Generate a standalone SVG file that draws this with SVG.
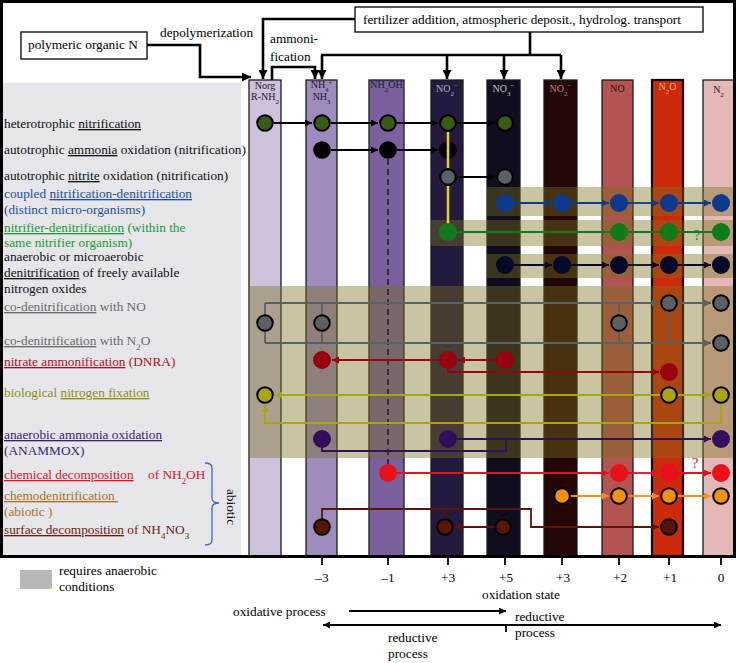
<svg xmlns="http://www.w3.org/2000/svg" width="736" height="663" viewBox="0 0 736 663">
<style>
text{font-family:"Liberation Serif","Times New Roman",serif;}
.t{font-size:13.3px;}
.cl{font-size:10px;text-anchor:middle;}
.col{stroke:#1b1b1b;stroke-width:1.3;}
.band{fill:#7c701d;fill-opacity:0.41;}
.box{fill:#fff;stroke:#000;stroke-width:1.3;}
.top{fill:none;stroke:#000;stroke-width:2.6;}
.ln{fill:none;stroke-width:1.8;}
.u{text-decoration:underline;}
</style>
<defs>
<marker id="big" viewBox="0 0 10 10" refX="10" refY="5" markerWidth="10" markerHeight="9" markerUnits="userSpaceOnUse" orient="auto"><path d="M0,0 L10,5 L0,10 z" fill="#000"/></marker>
<marker id="ak" viewBox="0 0 10 10" refX="10" refY="5" markerWidth="8" markerHeight="7" markerUnits="userSpaceOnUse" orient="auto-start-reverse"><path d="M0,0 L10,5 L0,10 z" fill="#000"/></marker>
<marker id="ab" viewBox="0 0 10 10" refX="10" refY="5" markerWidth="8" markerHeight="7" markerUnits="userSpaceOnUse" orient="auto"><path d="M0,0 L10,5 L0,10 z" fill="#0c3a8c"/></marker>
<marker id="an" viewBox="0 0 10 10" refX="10" refY="5" markerWidth="8" markerHeight="7" markerUnits="userSpaceOnUse" orient="auto"><path d="M0,0 L10,5 L0,10 z" fill="#060a28"/></marker>
<marker id="ag" viewBox="0 0 10 10" refX="10" refY="5" markerWidth="8" markerHeight="7" markerUnits="userSpaceOnUse" orient="auto"><path d="M0,0 L10,5 L0,10 z" fill="#5c6064"/></marker>
<marker id="adr" viewBox="0 0 10 10" refX="10" refY="5" markerWidth="8" markerHeight="7" markerUnits="userSpaceOnUse" orient="auto"><path d="M0,0 L10,5 L0,10 z" fill="#990010"/></marker>
<marker id="ao" viewBox="0 0 10 10" refX="10" refY="5" markerWidth="8" markerHeight="7" markerUnits="userSpaceOnUse" orient="auto"><path d="M0,0 L10,5 L0,10 z" fill="#a8a412"/></marker>
<marker id="ap" viewBox="0 0 10 10" refX="10" refY="5" markerWidth="8" markerHeight="7" markerUnits="userSpaceOnUse" orient="auto"><path d="M0,0 L10,5 L0,10 z" fill="#30105e"/></marker>
<marker id="ar" viewBox="0 0 10 10" refX="10" refY="5" markerWidth="8" markerHeight="7" markerUnits="userSpaceOnUse" orient="auto"><path d="M0,0 L10,5 L0,10 z" fill="#e8101a"/></marker>
<marker id="aor" viewBox="0 0 10 10" refX="10" refY="5" markerWidth="8" markerHeight="7" markerUnits="userSpaceOnUse" orient="auto"><path d="M0,0 L10,5 L0,10 z" fill="#f6900e"/></marker>
<marker id="abr" viewBox="0 0 10 10" refX="10" refY="5" markerWidth="8" markerHeight="7" markerUnits="userSpaceOnUse" orient="auto"><path d="M0,0 L10,5 L0,10 z" fill="#5a1408"/></marker>
</defs>
<rect width="736" height="663" fill="#fff"/>
<rect x="3" y="83" width="238" height="473" fill="#e6e6ea"/>

<!-- columns -->
<g id="col-norg"><rect class="col" x="249" y="80" width="32" height="476" fill="#cdc1dc"/>
<text class="cl" x="265" y="89" fill="#1a1a2a">Norg</text><text class="cl" x="265" y="100" fill="#1a1a2a">R-NH<tspan font-size="7" baseline-shift="sub">2</tspan></text></g>
<g id="col-nh4"><rect class="col" x="306" y="80" width="31" height="476" fill="#9d8bbd"/>
<text class="cl" x="321.5" y="88" fill="#1a1a2a">NH<tspan font-size="6.5" baseline-shift="sub">4</tspan><tspan font-size="6.5" baseline-shift="super">+</tspan></text><text class="cl" x="321.5" y="100" fill="#1a1a2a">NH<tspan font-size="6.5" baseline-shift="sub">3</tspan></text></g>
<g id="col-nh2oh"><rect class="col" x="369" y="80" width="35" height="476" fill="#7a619e"/>
<text class="cl" x="386.5" y="88" fill="#1a1a2a">NH<tspan font-size="7" baseline-shift="sub">2</tspan>OH</text></g>
<g id="col-no2a"><rect class="col" x="431" y="80" width="32" height="476" fill="#231a3e"/>
<text class="cl" x="447" y="92" fill="#b0a8c4">NO<tspan font-size="7" baseline-shift="sub">2</tspan><tspan font-size="7" baseline-shift="super">−</tspan></text></g>
<g id="col-no3"><rect class="col" x="487" y="80" width="33" height="476" fill="#0f0d1e"/>
<text class="cl" x="503.5" y="92" fill="#c4c4cc">NO<tspan font-size="7" baseline-shift="sub">3</tspan><tspan font-size="7" baseline-shift="super">−</tspan></text></g>
<g id="col-no2b"><rect class="col" x="544" y="80" width="33" height="476" fill="#240606"/>
<text class="cl" x="560.5" y="92" fill="#c88080">NO<tspan font-size="7" baseline-shift="sub">2</tspan><tspan font-size="7" baseline-shift="super">−</tspan></text></g>
<g id="col-no"><rect class="col" x="602" y="80" width="31" height="476" fill="#b35452"/>
<text class="cl" x="617.5" y="92" fill="#3a0a0a">NO</text></g>
<g id="col-n2o"><rect x="652" y="80" width="31" height="476" fill="#cc2a0a" stroke="#000" stroke-width="2.2"/>
<text class="cl" x="667.5" y="90" fill="#f2b870">N<tspan font-size="7" baseline-shift="sub">2</tspan>O</text></g>
<g id="col-n2"><rect class="col" x="703" y="80" width="31" height="476" fill="#e4b8b8"/>
<text class="cl" x="718.5" y="93" fill="#2a1a1a">N<tspan font-size="7" baseline-shift="sub">2</tspan></text></g>

<!-- anaerobic bands -->
<g id="bands">
<rect class="band" x="487" y="187" width="247" height="29"/>
<rect class="band" x="431" y="220" width="303" height="26"/>
<rect class="band" x="487" y="254" width="247" height="24"/>
<rect class="band" x="249" y="286" width="485" height="172"/>
</g>

<!-- frame -->
<rect x="1.5" y="1.5" width="733" height="555" fill="none" stroke="#000" stroke-width="3"/>

<!-- top boxes -->
<g id="polymeric"><rect class="box" x="21" y="32" width="126" height="27"/><text class="t" x="28" y="49">polymeric organic N</text></g>
<g id="fertilizer"><rect class="box" x="355" y="7" width="348" height="25"/><text class="t" x="363" y="24">fertilizer addition, atmospheric deposit., hydrolog. transport</text></g>
<text class="t" x="160" y="37">depolymerization</text>
<text class="t" x="270" y="43">ammoni-</text>
<text class="t" x="270" y="61">fication</text>

<g id="connectors">
<!-- top -->
<path class="top" d="M147,45 H200 V77 H251" marker-end="url(#big)"/>
<path class="top" d="M355,19 H263 V79" marker-end="url(#big)"/>
<path class="top" d="M272,80 V67 H315 V79" marker-end="url(#big)"/>
<path class="top" d="M530,32 V55"/>
<path class="top" d="M321,55 H561"/>
<path class="top" d="M322,55 V79" marker-end="url(#big)"/>
<path class="top" d="M447,55 V79" marker-end="url(#big)"/>
<path class="top" d="M504,55 V79" marker-end="url(#big)"/>
<path class="top" d="M561,55 V79" marker-end="url(#big)"/>

<g class="ln" stroke="#000">
<path d="M274,123 H312" marker-end="url(#ak)"/>
<path d="M331,123 H378" marker-end="url(#ak)"/>
<path d="M397,123 H438" marker-end="url(#ak)"/>
<path d="M457,123 H495" marker-end="url(#ak)"/>
<path d="M331,150 H378" marker-end="url(#ak)"/>
<path d="M397,150 H438" marker-end="url(#ak)"/>
<path d="M457,177 H495" marker-end="url(#ak)"/>
</g>
<path d="M388,159 V464" fill="none" stroke="#333" stroke-width="2" stroke-dasharray="6,4"/>
<g class="ln" stroke="#0c3a8c">
<path d="M514,203 H552" marker-end="url(#ab)"/>
<path d="M571,203 H609" marker-end="url(#ab)"/>
<path d="M628,203 H659" marker-end="url(#ab)"/>
<path d="M678,203 H711" marker-end="url(#ab)"/>
</g>
<path class="ln" stroke="#0e7a1c" d="M448,232 H721"/>
<g class="ln" stroke="#060a28">
<path d="M514,265 H552" marker-end="url(#an)"/>
<path d="M571,265 H609" marker-end="url(#an)"/>
<path d="M628,265 H659" marker-end="url(#an)"/>
<path d="M678,265 H711" marker-end="url(#an)"/>
</g>
<g class="ln" stroke="#5c6064" stroke-width="2">
<path d="M265,303 H659" marker-end="url(#ag)"/>
<path d="M265,303 V343 M322,303 V343 M619,303 V343 M669,303 V343"/>
<path d="M265,343 H711" marker-end="url(#ag)"/>
<path d="M678,303 H711" marker-end="url(#ag)"/>
</g>
<g class="ln" stroke="#990010">
<path d="M496,360 H458" marker-end="url(#adr)"/>
<path d="M439,360 H332" marker-end="url(#adr)"/>
<path d="M448,360 V372 H659" marker-end="url(#adr)"/>
</g>
<g class="ln" stroke="#a8a412">
<path d="M660,395 H275" marker-end="url(#ao)"/>
<path d="M678,395 H711" marker-end="url(#ao)"/>
<path d="M721,395 V423 H265 V405" marker-end="url(#ao)"/>
</g>
<g class="ln" stroke="#30105e">
<path d="M448,439 H711" marker-end="url(#ap)"/>
<path d="M322,439 V451 H506 V439"/>
</g>
<g class="ln" stroke="#e8101a">
<path d="M388,473 H609" marker-end="url(#ar)"/>
<path d="M628,473 H659" marker-end="url(#ar)"/>
<path d="M678,473 H711" marker-end="url(#ar)"/>
</g>
<g class="ln" stroke="#f6900e">
<path d="M571,496 H609" marker-end="url(#aor)"/>
<path d="M628,496 H659" marker-end="url(#aor)"/>
<path d="M678,496 H711" marker-end="url(#aor)"/>
</g>
<g class="ln" stroke="#5a1408">
<path d="M322,527 V509 H531 V527 H659" marker-end="url(#abr)"/>
<path d="M445,527 V509"/>
<path d="M494,527 H455" marker-end="url(#abr)"/>
</g>
</g>

<!-- nodes -->
<g id="row-heterotrophic" fill="#3b5a17" stroke="#000" stroke-width="2">
<circle cx="265" cy="123" r="7.8"/><circle cx="322" cy="123" r="7.8"/><circle cx="388" cy="123" r="7.8"/><circle cx="448" cy="123" r="7.8"/><circle cx="505" cy="123" r="7.8"/>
</g>
<g id="row-ammonia-ox" fill="#000">
<circle cx="322" cy="150" r="8.8"/><circle cx="388" cy="150" r="8.8"/><circle cx="448" cy="150" r="8.8"/>
</g>
<path d="M448,132 V168 M448,186 V224" stroke="#e8d41c" stroke-width="2.5" fill="none"/>
<g id="row-nitrite-ox" fill="#5c6064" stroke="#000" stroke-width="2">
<circle cx="448" cy="177" r="7.8"/><circle cx="505" cy="177" r="7.8"/>
</g>
<g id="row-coupled" fill="#0c3a8c">
<circle cx="505" cy="203" r="9"/><circle cx="562" cy="203" r="9"/><circle cx="619" cy="203" r="9"/><circle cx="669" cy="203" r="9"/><circle cx="721" cy="203" r="9"/>
</g>
<g id="row-nitrifier-denit" fill="#0e7a1c">
<circle cx="448" cy="232" r="9"/><circle cx="619" cy="232" r="9"/><circle cx="669" cy="232" r="9"/><circle cx="721" cy="232" r="9"/>
</g>
<g id="row-denit" fill="#060a28">
<circle cx="505" cy="265" r="9"/><circle cx="562" cy="265" r="9"/><circle cx="619" cy="265" r="9"/><circle cx="669" cy="265" r="9"/><circle cx="721" cy="265" r="9"/>
</g>
<g id="row-codenit" fill="#5c6064" stroke="#000" stroke-width="2">
<circle cx="265" cy="323" r="7.8"/><circle cx="322" cy="323" r="7.8"/><circle cx="619" cy="323" r="7.8"/><circle cx="669" cy="303" r="7.8"/><circle cx="721" cy="303" r="7.8"/><circle cx="721" cy="343" r="7.8"/>
</g>
<g id="row-dnra" fill="#990010">
<circle cx="322" cy="360" r="9"/><circle cx="448" cy="360" r="9"/><circle cx="505" cy="360" r="9"/><circle cx="669" cy="372" r="9"/>
</g>
<g id="row-fixation" fill="#a8a412" stroke="#000" stroke-width="2">
<circle cx="265" cy="395" r="7.8"/><circle cx="669" cy="395" r="7.8"/><circle cx="721" cy="395" r="7.8"/>
</g>
<g id="row-anammox" fill="#30105e">
<circle cx="322" cy="439" r="9"/><circle cx="448" cy="439" r="9"/><circle cx="721" cy="439" r="9"/>
</g>
<g id="row-chemdecomp" fill="#e8101a">
<circle cx="388" cy="473" r="9"/><circle cx="619" cy="473" r="9"/><circle cx="669" cy="473" r="9"/><circle cx="721" cy="473" r="9"/>
</g>
<g id="row-chemodenit" fill="#f6900e" stroke="#000" stroke-width="2">
<circle cx="562" cy="496" r="7.8"/><circle cx="619" cy="496" r="7.8"/><circle cx="669" cy="496" r="7.8"/><circle cx="721" cy="496" r="7.8"/>
</g>
<g id="row-surface" fill="#5a1408" stroke="#000" stroke-width="2">
<circle cx="322" cy="527" r="7.8"/><circle cx="445" cy="527" r="7.8"/><circle cx="503" cy="527" r="7.8"/><circle cx="669" cy="527" r="7.8"/>
</g>
<text x="697" y="240" font-size="15" fill="#0e7a1c" text-anchor="middle">?</text>
<text x="695" y="468" font-size="15" fill="#e8101a" text-anchor="middle">?</text>

<!-- process labels -->
<g id="labels" class="t">
<text class="t" x="4" y="128" fill="#111">heterotrophic <tspan class="u">nitrification</tspan></text>
<text class="t" x="4" y="154" fill="#111">autotrophic <tspan class="u">ammonia</tspan> oxidation (nitrification)</text>
<text class="t" x="4" y="180" fill="#111">autotrophic <tspan class="u">nitrite</tspan> oxidation (nitrification)</text>
<text class="t" x="4" y="198" fill="#1f4e9e">coupled <tspan class="u">nitrification-denitrification</tspan></text>
<text class="t" x="4" y="214" fill="#1f4e9e">(distinct micro-organisms)</text>
<text class="t" x="4" y="232" fill="#1a9a35"><tspan class="u">nitrifier-denitrification</tspan> (within the</text>
<text class="t" x="4" y="247" fill="#1a9a35">same nitrifier organism)</text>
<text class="t" x="4" y="261" fill="#111">anaerobic or microaerobic</text>
<text class="t" x="4" y="277" fill="#111"><tspan class="u">denitrification</tspan> of freely available</text>
<text class="t" x="4" y="293" fill="#111">nitrogen oxides</text>
<text class="t" x="4" y="311" fill="#6a6a6a"><tspan class="u">co-denitrification</tspan> with NO</text>
<text class="t" x="4" y="345" fill="#6a6a6a"><tspan class="u">co-denitrification</tspan> with N<tspan font-size="9" baseline-shift="sub">2</tspan>O</text>
<text class="t" x="4" y="366" fill="#b0101c"><tspan class="u">nitrate ammonification</tspan> (DNRA)</text>
<text class="t" x="4" y="397" fill="#8c8c14">biological <tspan class="u">nitrogen fixation</tspan></text>
<text class="t" x="4" y="439" fill="#3d1f6e"><tspan class="u">anaerobic ammonia oxidation</tspan></text>
<text class="t" x="4" y="455" fill="#3d1f6e">(ANAMMOX)</text>
<text class="t" x="4" y="479" fill="#e0141e"><tspan class="u">chemical decomposition</tspan></text>
<text class="t" x="148" y="479" fill="#e0141e">of NH<tspan font-size="9" baseline-shift="sub">2</tspan>OH</text>
<text class="t" x="4" y="500" fill="#b0701a"><tspan class="u">chemodenitrification&#160;</tspan></text>
<text class="t" x="4" y="516" fill="#b0701a">(abiotic )</text>
<text class="t" x="4" y="534" fill="#6b1d0e"><tspan class="u">surface decomposition</tspan> of NH<tspan font-size="9" baseline-shift="sub">4</tspan>NO<tspan font-size="9" baseline-shift="sub">3</tspan></text>
<path d="M205,463 Q212,463 212,468 V498 Q212,503 219,503 Q212,503 212,508 V540 Q212,545 205,545" fill="none" stroke="#3a6ac8" stroke-width="1.3"/>
<text class="t" transform="translate(227,507) rotate(90)" text-anchor="middle" fill="#111">abiotic</text>
</g>

<!-- legend and axis -->
<g id="legend">
<rect x="20" y="570" width="32" height="19" fill="#b8b8b8"/>
<text class="t" x="59" y="575">requires anaerobic</text>
<text class="t" x="59" y="591">conditions</text>
</g>
<g id="axis">
<path d="M322,557 V565 M388,557 V565 M448,557 V565 M505,557 V565 M562,557 V565 M619,557 V565 M669,557 V565 M721,557 V565" stroke="#000" stroke-width="1.8"/>
<g class="t" text-anchor="middle">
<text class="t" x="322" y="582">–3</text>
<text class="t" x="388" y="582">–1</text>
<text class="t" x="448" y="582">+3</text>
<text class="t" x="506" y="582">+5</text>
<text class="t" x="563" y="582">+3</text>
<text class="t" x="620" y="582">+2</text>
<text class="t" x="670" y="582">+1</text>
<text class="t" x="721" y="582">0</text>
<text class="t" x="521" y="599">oxidation state</text>
</g>
<text class="t" x="233" y="616">oxidative process</text>
<path d="M349,611 H506" stroke="#000" stroke-width="1.8" marker-end="url(#ak)"/>
<path d="M323,625 H721" stroke="#000" stroke-width="1.8" marker-start="url(#ak)" marker-end="url(#ak)"/>
<path d="M506,625 V632" stroke="#000" stroke-width="1.8"/>
<text class="t" x="515" y="621">reductive</text>
<text class="t" x="515" y="637">process</text>
<text class="t" x="388" y="642">reductive</text>
<text class="t" x="388" y="658">process</text>
</g>
</svg>
